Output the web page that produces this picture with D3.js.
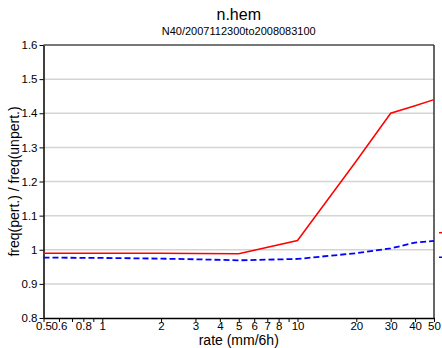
<!DOCTYPE html>
<html>
<head>
<meta charset="utf-8">
<script src="https://cdn.jsdelivr.net/npm/d3@7"></script>
<style>
  body { margin: 0; background: #fff; }
  text { font-family: "Liberation Sans", Arial, sans-serif; }
</style>
</head>
<body>
<svg id="chart" width="442" height="348"></svg>
<script>
// rates (mm/6h) and ratio series
const rates = [0.5, 1, 2, 3, 5, 10, 20, 30, 40, 50];
const redSeries = [0.99, 0.99, 0.99, 0.989, 0.988, 1.027, 1.26, 1.40, 1.422, 1.44];
const blueSeries = [0.977, 0.976, 0.974, 0.972, 0.969, 0.973, 0.99, 1.004, 1.021, 1.026];
const sideMarks = [1.05, 0.978]; // red, blue marks beyond right border
const xTicks = [0.5, 0.6, 0.7, 0.8, 0.9, 1, 2, 3, 4, 5, 6, 7, 8, 9, 10, 20, 30, 40, 50];
const xLabels = [0.5, 0.6, 0.8, 1, 2, 3, 4, 5, 6, 7, 8, 10, 20, 30, 40, 50];
const yTicks = [0.8, 0.9, 1.0, 1.1, 1.2, 1.3, 1.4, 1.5, 1.6];

const svg = d3.select("#chart");
const mLeft = 43.5, mRight = 434, mTop = 45, mBottom = 318;

const x = d3.scaleLog().domain([0.5, 50]).range([mLeft, mRight]);
const y = d3.scaleLinear().domain([0.8, 1.6]).range([mBottom, mTop]);

// grid lines
svg.selectAll(".grid")
  .data(yTicks.filter(v => v > 0.8 && v < 1.6))
  .enter().append("line")
  .attr("x1", mLeft).attr("x2", mRight)
  .attr("y1", d => y(d)).attr("y2", d => y(d))
  .attr("stroke", "#d4d4d4").attr("stroke-width", 1.5);

// top border (gray) and right border
svg.append("line").attr("x1", mLeft).attr("x2", mRight)
  .attr("y1", y(1.6)).attr("y2", y(1.6))
  .attr("stroke", "#777").attr("stroke-width", 2);
svg.append("line").attr("x1", mRight).attr("x2", mRight)
  .attr("y1", y(1.6)).attr("y2", mBottom)
  .attr("stroke", "#333").attr("stroke-width", 1.5);

// y axis
const yAxis = d3.axisLeft(y).tickValues(yTicks)
  .tickFormat(d => d3.format("")(+d.toFixed(1))).tickSize(4).tickSizeOuter(0).tickPadding(2);
const gy = svg.append("g").attr("transform", `translate(${mLeft},0)`).call(yAxis);
gy.select(".domain").attr("stroke", "#000").attr("stroke-width", 1.5);
gy.selectAll("text").attr("font-size", 11.5).attr("fill", "#000");

// x axis
const xAxis = d3.axisBottom(x).tickValues(xTicks)
  .tickFormat(d => xLabels.includes(d) ? String(d) : "")
  .tickSize(4).tickSizeOuter(0).tickPadding(0);
const gx = svg.append("g").attr("transform", `translate(0,${mBottom})`).call(xAxis);
gx.select(".domain").attr("stroke", "#000").attr("stroke-width", 1.5);
gx.selectAll("text").attr("font-size", 11.5).attr("fill", "#000").attr("dy", "0.72em");

// lines
const line = d3.line().x(d => x(d[0])).y(d => y(d[1]));
svg.append("path")
  .attr("d", line(rates.map((r, i) => [r, redSeries[i]])))
  .attr("fill", "none").attr("stroke", "#ff0000").attr("stroke-width", 1.5);
svg.append("path")
  .attr("d", line(rates.map((r, i) => [r, blueSeries[i]])))
  .attr("fill", "none").attr("stroke", "#0000ff").attr("stroke-width", 1.8)
  .attr("stroke-dasharray", "6,3");

// side marks
const sideColors = ["#ff0000", "#0000ff"];
svg.selectAll(".side").data(sideMarks).enter().append("line")
  .attr("x1", x(50) + 5).attr("x2", x(50) + 10)
  .attr("y1", d => y(d)).attr("y2", d => y(d))
  .attr("stroke", (d, i) => sideColors[i]).attr("stroke-width", 1.5);

// titles
const cx = (mLeft + mRight) / 2;
svg.append("text").attr("x", cx).attr("y", 20).attr("text-anchor", "middle")
  .attr("font-size", 16).text("n.hem");
svg.append("text").attr("x", cx).attr("y", 35).attr("text-anchor", "middle")
  .attr("font-size", 11).text("N40/2007112300to2008083100");
svg.append("text").attr("x", cx).attr("y", 345).attr("text-anchor", "middle")
  .attr("font-size", 14).text("rate (mm/6h)");
svg.append("text").attr("transform", `translate(19,${(mTop + mBottom) / 2}) rotate(-90)`)
  .attr("text-anchor", "middle").attr("font-size", 14)
  .text("freq(pert.) / freq(unpert.)");
</script>
</body>
</html>
